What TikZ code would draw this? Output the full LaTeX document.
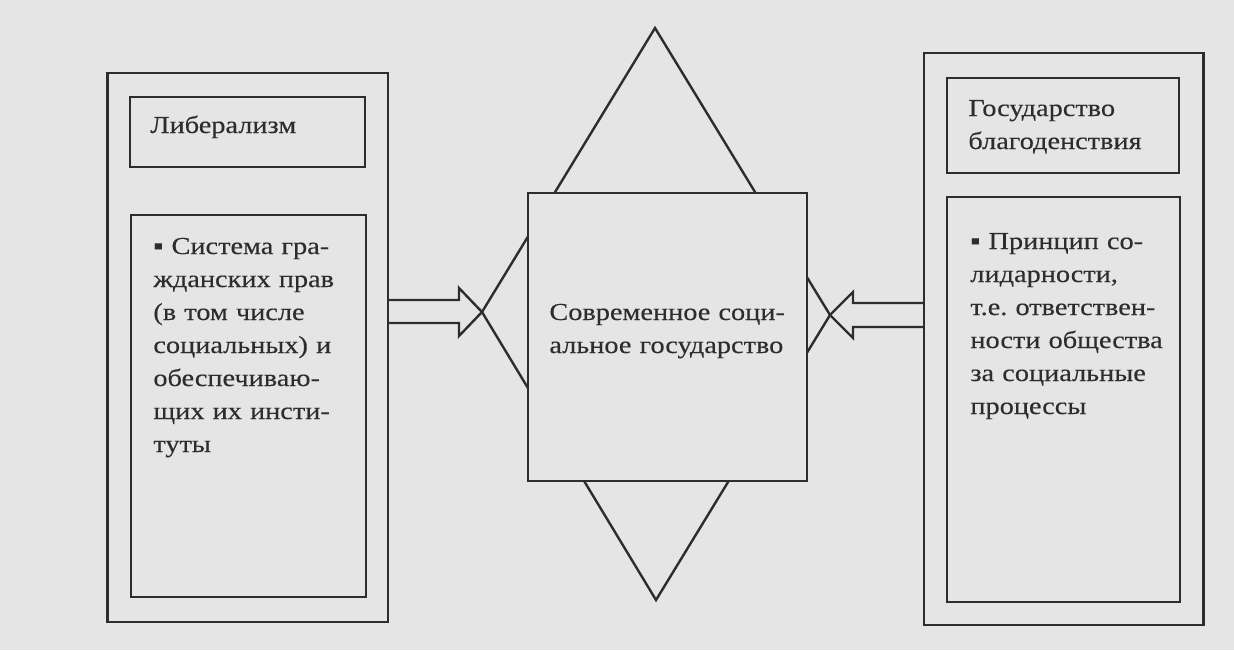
\documentclass[tikz,border=0pt]{standalone}
\usepackage{fontspec}
\setmainfont{Liberation Serif}[FakeStretch=1.16,FakeBold=0.3]
\usetikzlibrary{fit,calc}
\definecolor{paper}{RGB}{229,229,229}
\definecolor{ink}{RGB}{45,45,45}
\frenchspacing
\begin{document}
\begin{tikzpicture}[x=0.5pt,y=-0.5pt,
  frame/.style={draw=ink, line width=1.2pt, fill=paper, inner sep=0pt},
  conn/.style={draw=ink, line width=1.2pt, line join=miter},
  txt/.style={text=ink, inner sep=0pt, anchor=base west, align=left,
    text width=140pt, font=\fontsize{12.2}{16.5}\selectfont\frenchspacing}]
% background
\fill[paper] (0,0) rectangle (1234,650);
\useasboundingbox (0,0) rectangle (1234,650);
% diamond vertices
\coordinate (dt) at (655,28);
\coordinate (dl) at (482,312);
\coordinate (db) at (656,600);
\coordinate (dr) at (830,315);
\draw[conn] (dt) -- (dr) -- (db) -- (dl) -- cycle;
% center box
\node[frame, fit={(528,193)(807,481)}] (C) {};
% left side
\node[frame, fit={(107.5,73)(388,622)}] (L) {};
\node[frame, fit={(130,97)(365,167)}] (L1) {};
\node[frame, fit={(131,215)(366,597)}] (L2) {};
% right side
\node[frame, fit={(924,53)(1203.5,625)}] (R) {};
\node[frame, fit={(947,78)(1179,173)}] (R1) {};
\node[frame, fit={(947,197)(1180,602)}] (R2) {};
% arrows
\draw[conn] (L.east |- 0,300) -- (459,300) -- (459,288) -- (dl) -- (459,336) -- (459,323) -- (L.east |- 0,323);
\draw[conn] (R.west |- 0,303) -- (853,303) -- (853,292) -- (dr) -- (853,338) -- (853,327) -- (R.west |- 0,327);
% texts
\node[txt] (tL1) at (150,133) {Либерализм};
\node[txt] (tL2) at (153,254) {▪ Система гра-\\жданских прав\\(в том числе\\социальных) и\\обеспечиваю-\\щих их инсти-\\туты};
\node[txt] (tC) at (549,320) {Современное соци-\\альное государство};
\node[txt] (tR1) at (968,116) {Государство\\благоденствия};
\node[txt] (tR2) at (970,249) {▪ Принцип со-\\лидарности,\\т.е. ответствен-\\ности общества\\за социальные\\процессы};
\end{tikzpicture}
\end{document}
